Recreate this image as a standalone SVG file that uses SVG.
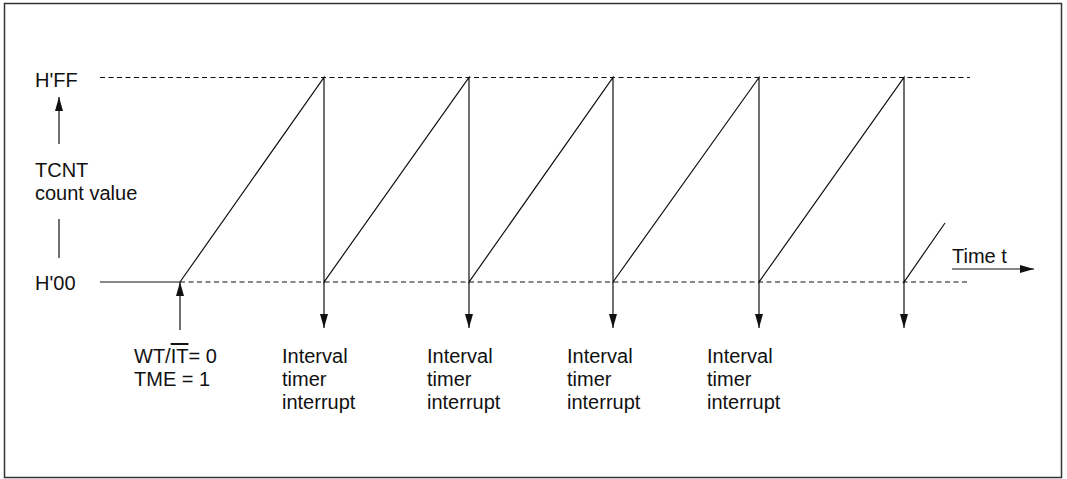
<svg xmlns="http://www.w3.org/2000/svg" width="1067" height="479" viewBox="0 0 1067 479">
<style>
.t{font-family:"Liberation Sans",Arial,sans-serif;font-size:20px;fill:#111}
.ln{stroke:#111;stroke-width:1.2;fill:none}
.ds{stroke:#111;stroke-width:1.2;fill:none;stroke-dasharray:5 3.5}
</style>
<defs>
<marker id="ah" viewBox="0 0 14 8" refX="14" refY="4" markerWidth="14" markerHeight="8" markerUnits="userSpaceOnUse" orient="auto">
<path d="M0,0 L14,4 L0,8 Z" fill="#111"/>
</marker>
</defs>
<rect width="1067" height="479" fill="#fff"/>
<rect x="4.5" y="3.5" width="1057" height="474" fill="none" stroke="#333" stroke-width="1.5"/>
<g id="axis-labels">
<text class="t" x="35" y="87">H'FF</text>
<text class="t" x="35" y="177">TCNT</text>
<text class="t" x="35" y="200">count value</text>
<text class="t" x="35" y="290">H'00</text>
<text class="t" x="952" y="263">Time t</text>
</g>
<g id="start-label">
<text class="t" x="134" y="363">WT/<tspan text-decoration="overline">IT</tspan>= 0</text>
<text class="t" x="134" y="386">TME = 1</text>
</g>
<g id="interrupt-labels">
<text class="t" x="282" y="363">Interval</text><text class="t" x="282" y="386">timer</text><text class="t" x="282" y="409">interrupt</text>
<text class="t" x="427" y="363">Interval</text><text class="t" x="427" y="386">timer</text><text class="t" x="427" y="409">interrupt</text>
<text class="t" x="567" y="363">Interval</text><text class="t" x="567" y="386">timer</text><text class="t" x="567" y="409">interrupt</text>
<text class="t" x="707" y="363">Interval</text><text class="t" x="707" y="386">timer</text><text class="t" x="707" y="409">interrupt</text>
</g>
<g id="connectors">
<line class="ds" x1="100" y1="77.5" x2="970" y2="77.5"/>
<line class="ln" x1="100" y1="282" x2="180" y2="282"/>
<line class="ds" x1="180" y1="282" x2="970" y2="282"/>
<polyline class="ln" points="180,282 324,77.5 324,282 469,77.5 469,282 613,77.5 613,282 759,77.5 759,282 904,77.5 904,282 945,223"/>
<line class="ln" x1="324" y1="282" x2="324" y2="328" marker-end="url(#ah)"/>
<line class="ln" x1="469" y1="282" x2="469" y2="328" marker-end="url(#ah)"/>
<line class="ln" x1="613" y1="282" x2="613" y2="328" marker-end="url(#ah)"/>
<line class="ln" x1="759" y1="282" x2="759" y2="328" marker-end="url(#ah)"/>
<line class="ln" x1="904" y1="282" x2="904" y2="328" marker-end="url(#ah)"/>
<line class="ln" x1="180" y1="330" x2="180" y2="282" marker-end="url(#ah)"/>
<line class="ln" x1="59" y1="144" x2="59" y2="97" marker-end="url(#ah)"/>
<line class="ln" x1="59" y1="219" x2="59" y2="258"/>
<line class="ln" x1="952" y1="269" x2="1034" y2="269" marker-end="url(#ah)"/>
</g>
</svg>
